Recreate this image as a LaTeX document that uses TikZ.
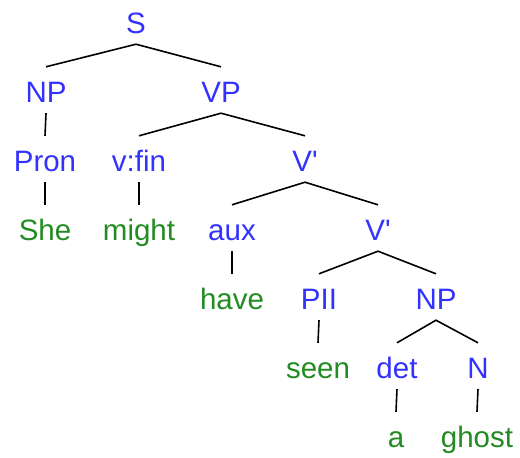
\documentclass[tikz,border=0pt]{standalone}
\usepackage{fontspec}
\newfontfamily\treefont{Liberation Sans}
\definecolor{catblue}{RGB}{50,50,255}
\definecolor{wordgreen}{RGB}{34,139,34}
\begin{document}
\begin{tikzpicture}[x=1pt,y=-1pt,
  lbl/.style={anchor=base,inner xsep=0pt,inner ysep=5pt,text height=30pt,text depth=6pt,
    font=\treefont\fontsize{29.5}{34}\selectfont},
  cat/.style={lbl,text=catblue},
  word/.style={lbl,text=wordgreen},
  edge/.style={draw=black,line width=1.6pt}]
\useasboundingbox (0,0) rectangle (520,458);
\node[cat] (S) at (136,33) {S};
\node[cat] (NPa) at (46,102) {NP};
\node[cat] (VP) at (221,102) {VP};
\node[cat] (Pron) at (45,171) {Pron};
\node[cat] (vfin) at (139,171) {v:fin};
\node[cat] (Va) at (305,171) {V'};
\node[word] (She) at (45,240) {She};
\node[word] (might) at (139,240) {might};
\node[cat] (aux) at (232,240) {aux};
\node[cat] (Vb) at (378,240) {V'};
\node[word] (have) at (232,309) {have};
\node[cat] (PII) at (319,309) {PII};
\node[cat] (NPb) at (436,309) {NP};
\node[word] (seen) at (318,378) {seen};
\node[cat] (det) at (397,378) {det};
\node[cat] (N) at (478,378) {N};
\node[word] (a) at (396,447) {a};
\node[word] (ghost) at (477,447) {ghost};
\draw[edge] (NPa.north) -- (S.south) -- (VP.north);
\draw[edge] (NPa.south) -- (Pron.north);
\draw[edge] (Pron.south) -- (She.north);
\draw[edge] (vfin.north) -- (VP.south) -- (Va.north);
\draw[edge] (vfin.south) -- (might.north);
\draw[edge] (aux.north) -- (Va.south) -- (Vb.north);
\draw[edge] (aux.south) -- (have.north);
\draw[edge] (PII.north) -- (Vb.south) -- (NPb.north);
\draw[edge] (PII.south) -- (seen.north);
\draw[edge] (det.north) -- (NPb.south) -- (N.north);
\draw[edge] (det.south) -- (a.north);
\draw[edge] (N.south) -- (ghost.north);
\end{tikzpicture}
\end{document}
